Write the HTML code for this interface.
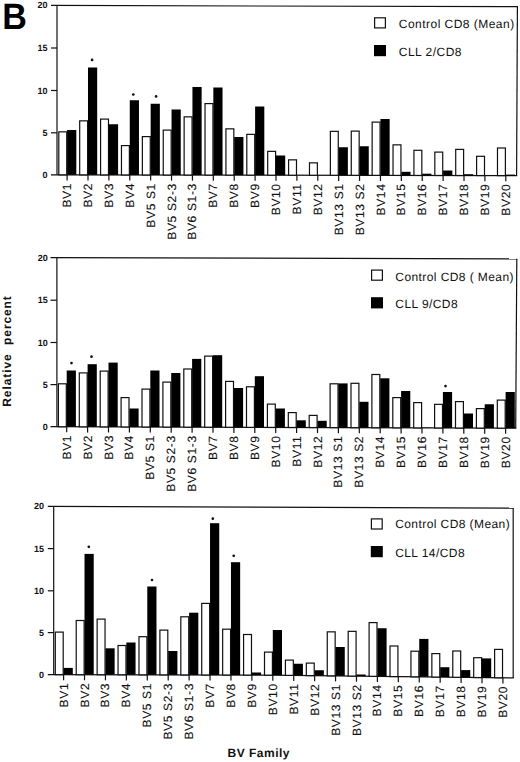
<!DOCTYPE html>
<html><head><meta charset="utf-8"><style>
html,body{margin:0;padding:0;background:#fff;}
svg{display:block;}
line,polyline{stroke:#111;stroke-width:1.2;}
rect.w{fill:#fff;stroke:#111;stroke-width:1.2;}
rect.b{fill:#000;}
circle{fill:#111;}
text{font-family:"Liberation Sans",sans-serif;fill:#111;text-rendering:geometricPrecision;}
.xl{font-size:12px;letter-spacing:0.65px;text-anchor:end;stroke:#111;stroke-width:0.12px;}
.yl{font-size:9px;font-weight:bold;text-anchor:end;}
.lg{font-size:12px;letter-spacing:0.5px;}
.ax{font-size:12px;font-weight:bold;}
</style></head><body>
<svg width="520" height="762" viewBox="0 0 520 762">
<text transform="translate(2.27,28.55) scale(0.93,1)" style="font-family:'Liberation Sans',sans-serif;font-size:36.7px;font-weight:bold;fill:#000">B</text>
<line x1="51" y1="5.42" x2="518" y2="6.7"/>
<line x1="57" y1="5.42" x2="57" y2="174.81"/>
<line x1="517.4" y1="6.7" x2="516.6" y2="175.6"/>
<polyline fill="none" points="51,174.8 517,175.6 517.2,175.6"/>
<line x1="51" y1="48" x2="57" y2="48"/>
<line x1="51" y1="90.5" x2="57" y2="90.5"/>
<line x1="51" y1="132.8" x2="57" y2="132.8"/>
<rect class="w" x="58.8" y="131.85" width="7.9" height="42.98"/>
<rect class="b" x="67.1" y="130" width="9.2" height="44.83"/>
<line x1="67.1" y1="174.83" x2="67.1" y2="180.43"/>
<text class="xl" transform="translate(71.15,182.93) rotate(-90)">BV1</text>
<rect class="w" x="79.69" y="120.85" width="7.9" height="54.01"/>
<rect class="b" x="87.99" y="67.5" width="9.2" height="107.36"/>
<line x1="87.99" y1="174.86" x2="87.99" y2="180.46"/>
<text class="xl" transform="translate(92.04,182.96) rotate(-90)">BV2</text>
<rect class="w" x="100.58" y="119.1" width="7.9" height="55.8"/>
<rect class="b" x="108.88" y="124.25" width="9.2" height="50.65"/>
<line x1="108.88" y1="174.9" x2="108.88" y2="180.5"/>
<text class="xl" transform="translate(112.93,183) rotate(-90)">BV3</text>
<rect class="w" x="121.47" y="145.6" width="7.9" height="29.34"/>
<rect class="b" x="129.77" y="100.25" width="9.2" height="74.69"/>
<line x1="129.77" y1="174.94" x2="129.77" y2="180.54"/>
<text class="xl" transform="translate(133.82,183.04) rotate(-90)">BV4</text>
<rect class="w" x="142.36" y="136.6" width="7.9" height="38.37"/>
<rect class="b" x="150.66" y="103.75" width="9.2" height="71.22"/>
<line x1="150.66" y1="174.97" x2="150.66" y2="180.57"/>
<text class="xl" transform="translate(154.71,183.07) rotate(-90)">BV5 S1</text>
<rect class="w" x="163.25" y="130.1" width="7.9" height="44.91"/>
<rect class="b" x="171.55" y="109.5" width="9.2" height="65.51"/>
<line x1="171.55" y1="175.01" x2="171.55" y2="180.61"/>
<text class="xl" transform="translate(175.6,183.11) rotate(-90)">BV5 S2-3</text>
<rect class="w" x="184.14" y="116.85" width="7.9" height="58.19"/>
<rect class="b" x="192.44" y="87" width="9.2" height="88.04"/>
<line x1="192.44" y1="175.04" x2="192.44" y2="180.64"/>
<text class="xl" transform="translate(196.49,183.14) rotate(-90)">BV6 S1-3</text>
<rect class="w" x="205.03" y="103.6" width="7.9" height="71.48"/>
<rect class="b" x="213.33" y="87.5" width="9.2" height="87.58"/>
<line x1="213.33" y1="175.08" x2="213.33" y2="180.68"/>
<text class="xl" transform="translate(217.38,183.18) rotate(-90)">BV7</text>
<rect class="w" x="225.92" y="128.85" width="7.9" height="46.26"/>
<rect class="b" x="234.22" y="137" width="9.2" height="38.11"/>
<line x1="234.22" y1="175.11" x2="234.22" y2="180.71"/>
<text class="xl" transform="translate(238.27,183.21) rotate(-90)">BV8</text>
<rect class="w" x="246.81" y="134.35" width="7.9" height="40.8"/>
<rect class="b" x="255.11" y="106.5" width="9.2" height="68.65"/>
<line x1="255.11" y1="175.15" x2="255.11" y2="180.75"/>
<text class="xl" transform="translate(259.16,183.25) rotate(-90)">BV9</text>
<rect class="w" x="267.7" y="151.35" width="7.9" height="23.84"/>
<rect class="b" x="276" y="155.5" width="9.2" height="19.69"/>
<line x1="276" y1="175.19" x2="276" y2="180.79"/>
<text class="xl" transform="translate(280.05,183.29) rotate(-90)">BV10</text>
<rect class="w" x="288.59" y="159.85" width="7.9" height="15.37"/>
<line x1="296.89" y1="175.22" x2="296.89" y2="180.82"/>
<text class="xl" transform="translate(300.94,183.32) rotate(-90)">BV11</text>
<rect class="w" x="309.48" y="162.85" width="7.9" height="12.41"/>
<line x1="317.78" y1="175.26" x2="317.78" y2="180.86"/>
<text class="xl" transform="translate(321.83,183.36) rotate(-90)">BV12</text>
<rect class="w" x="330.37" y="131.35" width="7.9" height="43.94"/>
<rect class="b" x="338.67" y="147.25" width="9.2" height="28.04"/>
<line x1="338.67" y1="175.29" x2="338.67" y2="180.89"/>
<text class="xl" transform="translate(342.72,183.39) rotate(-90)">BV13 S1</text>
<rect class="w" x="351.26" y="131.1" width="7.9" height="44.23"/>
<rect class="b" x="359.56" y="146.25" width="9.2" height="29.08"/>
<line x1="359.56" y1="175.33" x2="359.56" y2="180.93"/>
<text class="xl" transform="translate(363.61,183.43) rotate(-90)">BV13 S2</text>
<rect class="w" x="372.15" y="122.1" width="7.9" height="53.27"/>
<rect class="b" x="380.45" y="119" width="9.2" height="56.37"/>
<line x1="380.45" y1="175.37" x2="380.45" y2="180.97"/>
<text class="xl" transform="translate(384.5,183.47) rotate(-90)">BV14</text>
<rect class="w" x="393.04" y="144.85" width="7.9" height="30.55"/>
<rect class="b" x="401.34" y="171.8" width="9.2" height="3.6"/>
<line x1="401.34" y1="175.4" x2="401.34" y2="181"/>
<text class="xl" transform="translate(405.39,183.5) rotate(-90)">BV15</text>
<rect class="w" x="413.93" y="150.3" width="7.9" height="25.14"/>
<rect class="b" x="422.23" y="173.7" width="9.2" height="1.74"/>
<line x1="422.23" y1="175.44" x2="422.23" y2="181.04"/>
<text class="xl" transform="translate(426.28,183.54) rotate(-90)">BV16</text>
<rect class="w" x="434.82" y="152.1" width="7.9" height="23.37"/>
<rect class="b" x="443.12" y="170.5" width="9.2" height="4.97"/>
<line x1="443.12" y1="175.47" x2="443.12" y2="181.07"/>
<text class="xl" transform="translate(447.17,183.57) rotate(-90)">BV17</text>
<rect class="w" x="455.71" y="149.4" width="7.9" height="26.11"/>
<rect class="b" x="464.01" y="174.2" width="9.2" height="1.31"/>
<line x1="464.01" y1="175.51" x2="464.01" y2="181.11"/>
<text class="xl" transform="translate(468.06,183.61) rotate(-90)">BV18</text>
<rect class="w" x="476.6" y="156.3" width="7.9" height="19.24"/>
<line x1="484.9" y1="175.54" x2="484.9" y2="181.14"/>
<text class="xl" transform="translate(488.95,183.64) rotate(-90)">BV19</text>
<rect class="w" x="497.49" y="148" width="7.9" height="27.58"/>
<rect class="b" x="505.79" y="174.6" width="9.2" height="0.98"/>
<line x1="505.79" y1="175.58" x2="505.79" y2="181.18"/>
<text class="xl" transform="translate(509.84,183.68) rotate(-90)">BV20</text>
<circle cx="92.1" cy="59.9" r="1.35"/>
<circle cx="133.3" cy="94.5" r="1.35"/>
<circle cx="156.1" cy="96.4" r="1.35"/>
<text class="yl" x="47.5" y="8.4">20</text>
<text class="yl" x="47.5" y="51">15</text>
<text class="yl" x="47.5" y="93.5">10</text>
<text class="yl" x="47.5" y="135.8">5</text>
<text class="yl" x="47.5" y="177.8">0</text>
<rect class="w" x="374.6" y="17.8" width="10.8" height="10.1"/>
<rect class="b" x="374" y="45" width="12" height="11.2"/>
<text class="lg" x="398.8" y="27.7" style="letter-spacing:0.47px">Control CD8 (Mean)</text>
<text class="lg" x="398.8" y="55.6" style="letter-spacing:0.47px">CLL 2/CD8</text>
<line x1="50.5" y1="257.71" x2="517.4" y2="258.8"/>
<line x1="56.9" y1="257.71" x2="56.9" y2="426.72"/>
<line x1="516.8" y1="258.8" x2="515.7" y2="428.2"/>
<polyline fill="none" points="50.5,426.7 516,428.2 516.3,428.2"/>
<line x1="50.5" y1="300.2" x2="56.9" y2="300.2"/>
<line x1="50.5" y1="342.5" x2="56.9" y2="342.5"/>
<line x1="50.5" y1="384.6" x2="56.9" y2="384.6"/>
<rect class="w" x="58.4" y="383.8" width="7.9" height="42.95"/>
<rect class="b" x="66.7" y="370.5" width="9.2" height="56.25"/>
<line x1="66.7" y1="426.75" x2="66.7" y2="432.35"/>
<text class="xl" transform="translate(70.75,434.85) rotate(-90)">BV1</text>
<rect class="w" x="79.3" y="372.9" width="7.9" height="53.92"/>
<rect class="b" x="87.6" y="364.2" width="9.2" height="62.62"/>
<line x1="87.6" y1="426.82" x2="87.6" y2="432.42"/>
<text class="xl" transform="translate(91.65,434.92) rotate(-90)">BV2</text>
<rect class="w" x="100.2" y="371.1" width="7.9" height="55.79"/>
<rect class="b" x="108.5" y="362.6" width="9.2" height="64.29"/>
<line x1="108.5" y1="426.89" x2="108.5" y2="432.49"/>
<text class="xl" transform="translate(112.55,434.99) rotate(-90)">BV3</text>
<rect class="w" x="121.1" y="397.6" width="7.9" height="29.35"/>
<rect class="b" x="129.4" y="408.5" width="9.2" height="18.45"/>
<line x1="129.4" y1="426.95" x2="129.4" y2="432.55"/>
<text class="xl" transform="translate(133.45,435.05) rotate(-90)">BV4</text>
<rect class="w" x="142" y="389.1" width="7.9" height="37.92"/>
<rect class="b" x="150.3" y="370.5" width="9.2" height="56.52"/>
<line x1="150.3" y1="427.02" x2="150.3" y2="432.62"/>
<text class="xl" transform="translate(154.35,435.12) rotate(-90)">BV5 S1</text>
<rect class="w" x="162.9" y="382.1" width="7.9" height="44.99"/>
<rect class="b" x="171.2" y="373" width="9.2" height="54.09"/>
<line x1="171.2" y1="427.09" x2="171.2" y2="432.69"/>
<text class="xl" transform="translate(175.25,435.19) rotate(-90)">BV5 S2-3</text>
<rect class="w" x="183.8" y="369" width="7.9" height="58.16"/>
<rect class="b" x="192.1" y="358.9" width="9.2" height="68.26"/>
<line x1="192.1" y1="427.16" x2="192.1" y2="432.76"/>
<text class="xl" transform="translate(196.15,435.26) rotate(-90)">BV6 S1-3</text>
<rect class="w" x="204.7" y="356.1" width="7.9" height="71.12"/>
<rect class="b" x="213" y="355.2" width="9.2" height="72.02"/>
<line x1="213" y1="427.22" x2="213" y2="432.82"/>
<text class="xl" transform="translate(217.05,435.32) rotate(-90)">BV7</text>
<rect class="w" x="225.6" y="381.4" width="7.9" height="45.89"/>
<rect class="b" x="233.9" y="388" width="9.2" height="39.29"/>
<line x1="233.9" y1="427.29" x2="233.9" y2="432.89"/>
<text class="xl" transform="translate(237.95,435.39) rotate(-90)">BV8</text>
<rect class="w" x="246.5" y="386.8" width="7.9" height="40.56"/>
<rect class="b" x="254.8" y="376.2" width="9.2" height="51.16"/>
<line x1="254.8" y1="427.36" x2="254.8" y2="432.96"/>
<text class="xl" transform="translate(258.85,435.46) rotate(-90)">BV9</text>
<rect class="w" x="267.4" y="404.1" width="7.9" height="23.33"/>
<rect class="b" x="275.7" y="408.5" width="9.2" height="18.93"/>
<line x1="275.7" y1="427.43" x2="275.7" y2="433.03"/>
<text class="xl" transform="translate(279.75,435.53) rotate(-90)">BV10</text>
<rect class="w" x="288.3" y="412.6" width="7.9" height="14.89"/>
<rect class="b" x="296.6" y="420.3" width="9.2" height="7.19"/>
<line x1="296.6" y1="427.49" x2="296.6" y2="433.09"/>
<text class="xl" transform="translate(300.65,435.59) rotate(-90)">BV11</text>
<rect class="w" x="309.2" y="415.4" width="7.9" height="12.16"/>
<rect class="b" x="317.5" y="420.8" width="9.2" height="6.76"/>
<line x1="317.5" y1="427.56" x2="317.5" y2="433.16"/>
<text class="xl" transform="translate(321.55,435.66) rotate(-90)">BV12</text>
<rect class="w" x="330.1" y="383.8" width="7.9" height="43.83"/>
<rect class="b" x="338.4" y="383.4" width="9.2" height="44.23"/>
<line x1="338.4" y1="427.63" x2="338.4" y2="433.23"/>
<text class="xl" transform="translate(342.45,435.73) rotate(-90)">BV13 S1</text>
<rect class="w" x="351" y="383.3" width="7.9" height="44.4"/>
<rect class="b" x="359.3" y="401.8" width="9.2" height="25.9"/>
<line x1="359.3" y1="427.7" x2="359.3" y2="433.3"/>
<text class="xl" transform="translate(363.35,435.8) rotate(-90)">BV13 S2</text>
<rect class="w" x="371.9" y="374.5" width="7.9" height="53.26"/>
<rect class="b" x="380.2" y="378.3" width="9.2" height="49.46"/>
<line x1="380.2" y1="427.76" x2="380.2" y2="433.36"/>
<text class="xl" transform="translate(384.25,435.86) rotate(-90)">BV14</text>
<rect class="w" x="392.8" y="397.6" width="7.9" height="30.23"/>
<rect class="b" x="401.1" y="391" width="9.2" height="36.83"/>
<line x1="401.1" y1="427.83" x2="401.1" y2="433.43"/>
<text class="xl" transform="translate(405.15,435.93) rotate(-90)">BV15</text>
<rect class="w" x="413.7" y="402.6" width="7.9" height="25.3"/>
<rect class="b" x="422" y="427.6" width="9.2" height="0.3"/>
<line x1="422" y1="427.9" x2="422" y2="433.5"/>
<text class="xl" transform="translate(426.05,436) rotate(-90)">BV16</text>
<rect class="w" x="434.6" y="404.35" width="7.9" height="23.61"/>
<rect class="b" x="442.9" y="392" width="9.2" height="35.96"/>
<line x1="442.9" y1="427.96" x2="442.9" y2="433.56"/>
<text class="xl" transform="translate(446.95,436.06) rotate(-90)">BV17</text>
<rect class="w" x="455.5" y="401.6" width="7.9" height="26.43"/>
<rect class="b" x="463.8" y="413.5" width="9.2" height="14.53"/>
<line x1="463.8" y1="428.03" x2="463.8" y2="433.63"/>
<text class="xl" transform="translate(467.85,436.13) rotate(-90)">BV18</text>
<rect class="w" x="476.4" y="408.6" width="7.9" height="19.5"/>
<rect class="b" x="484.7" y="404.25" width="9.2" height="23.85"/>
<line x1="484.7" y1="428.1" x2="484.7" y2="433.7"/>
<text class="xl" transform="translate(488.75,436.2) rotate(-90)">BV19</text>
<rect class="w" x="497.3" y="400.1" width="7.9" height="28.07"/>
<rect class="b" x="505.6" y="392" width="9.2" height="36.17"/>
<line x1="505.6" y1="428.17" x2="505.6" y2="433.77"/>
<text class="xl" transform="translate(509.65,436.27) rotate(-90)">BV20</text>
<circle cx="71.5" cy="363.1" r="1.35"/>
<circle cx="91.5" cy="356.7" r="1.35"/>
<circle cx="445.5" cy="386.1" r="1.35"/>
<text class="yl" x="47.8" y="260.9">20</text>
<text class="yl" x="47.8" y="303.2">15</text>
<text class="yl" x="47.8" y="345.5">10</text>
<text class="yl" x="47.8" y="387.6">5</text>
<text class="yl" x="47.8" y="429.8">0</text>
<rect class="w" x="371.6" y="270.1" width="10.8" height="10.1"/>
<rect class="b" x="371" y="297.2" width="12" height="11.2"/>
<text class="lg" x="395.3" y="280.6" style="letter-spacing:0.42px">Control CD8 ( Mean)</text>
<text class="lg" x="395.3" y="308" style="letter-spacing:0.42px">CLL 9/CD8</text>
<line x1="47.8" y1="506.32" x2="513.8" y2="508.2"/>
<line x1="53.7" y1="506.32" x2="53.7" y2="674.61"/>
<line x1="513.2" y1="508.2" x2="513.2" y2="677.9"/>
<polyline fill="none" points="47.8,674.6 270,675.1 513.8,677.9"/>
<line x1="47.8" y1="548.6" x2="53.7" y2="548.6"/>
<line x1="47.8" y1="590.8" x2="53.7" y2="590.8"/>
<line x1="47.8" y1="632.6" x2="53.7" y2="632.6"/>
<rect class="w" x="55.3" y="632.1" width="7.9" height="42.54"/>
<rect class="b" x="63.6" y="667.9" width="9.2" height="6.74"/>
<line x1="63.6" y1="674.64" x2="63.6" y2="680.24"/>
<text class="xl" transform="translate(67.65,682.74) rotate(-90)">BV1</text>
<rect class="w" x="76.22" y="620.5" width="7.9" height="54.18"/>
<rect class="b" x="84.52" y="553.9" width="9.2" height="120.78"/>
<line x1="84.52" y1="674.68" x2="84.52" y2="680.28"/>
<text class="xl" transform="translate(88.57,682.78) rotate(-90)">BV2</text>
<rect class="w" x="97.14" y="619.1" width="7.9" height="55.63"/>
<rect class="b" x="105.44" y="648.3" width="9.2" height="26.43"/>
<line x1="105.44" y1="674.73" x2="105.44" y2="680.33"/>
<text class="xl" transform="translate(109.49,682.83) rotate(-90)">BV3</text>
<rect class="w" x="118.06" y="645.5" width="7.9" height="29.28"/>
<rect class="b" x="126.36" y="642.5" width="9.2" height="32.28"/>
<line x1="126.36" y1="674.78" x2="126.36" y2="680.38"/>
<text class="xl" transform="translate(130.41,682.88) rotate(-90)">BV4</text>
<rect class="w" x="138.98" y="636.7" width="7.9" height="38.12"/>
<rect class="b" x="147.28" y="586.5" width="9.2" height="88.32"/>
<line x1="147.28" y1="674.82" x2="147.28" y2="680.42"/>
<text class="xl" transform="translate(151.33,682.92) rotate(-90)">BV5 S1</text>
<rect class="w" x="159.9" y="630.1" width="7.9" height="44.77"/>
<rect class="b" x="168.2" y="651" width="9.2" height="23.87"/>
<line x1="168.2" y1="674.87" x2="168.2" y2="680.47"/>
<text class="xl" transform="translate(172.25,682.97) rotate(-90)">BV5 S2-3</text>
<rect class="w" x="180.82" y="616.8" width="7.9" height="58.12"/>
<rect class="b" x="189.12" y="612.7" width="9.2" height="62.22"/>
<line x1="189.12" y1="674.92" x2="189.12" y2="680.52"/>
<text class="xl" transform="translate(193.17,683.02) rotate(-90)">BV6 S1-3</text>
<rect class="w" x="201.74" y="603.4" width="7.9" height="71.57"/>
<rect class="b" x="210.04" y="523.2" width="9.2" height="151.77"/>
<line x1="210.04" y1="674.97" x2="210.04" y2="680.57"/>
<text class="xl" transform="translate(214.09,683.07) rotate(-90)">BV7</text>
<rect class="w" x="222.66" y="629.2" width="7.9" height="45.81"/>
<rect class="b" x="230.96" y="562.2" width="9.2" height="112.81"/>
<line x1="230.96" y1="675.01" x2="230.96" y2="680.61"/>
<text class="xl" transform="translate(235.01,683.11) rotate(-90)">BV8</text>
<rect class="w" x="243.58" y="634.5" width="7.9" height="40.56"/>
<rect class="b" x="251.88" y="672.5" width="9.2" height="2.56"/>
<line x1="251.88" y1="675.06" x2="251.88" y2="680.66"/>
<text class="xl" transform="translate(255.93,683.16) rotate(-90)">BV9</text>
<rect class="w" x="264.5" y="652.1" width="7.9" height="23.03"/>
<rect class="b" x="272.8" y="630" width="9.2" height="45.13"/>
<line x1="272.8" y1="675.13" x2="272.8" y2="680.73"/>
<text class="xl" transform="translate(276.85,683.23) rotate(-90)">BV10</text>
<rect class="w" x="285.42" y="660.1" width="7.9" height="15.27"/>
<rect class="b" x="293.72" y="663.75" width="9.2" height="11.62"/>
<line x1="293.72" y1="675.37" x2="293.72" y2="680.97"/>
<text class="xl" transform="translate(297.77,683.47) rotate(-90)">BV11</text>
<rect class="w" x="306.34" y="663.1" width="7.9" height="12.51"/>
<rect class="b" x="314.64" y="670.25" width="9.2" height="5.36"/>
<line x1="314.64" y1="675.61" x2="314.64" y2="681.21"/>
<text class="xl" transform="translate(318.69,683.71) rotate(-90)">BV12</text>
<rect class="w" x="327.26" y="631.85" width="7.9" height="44"/>
<rect class="b" x="335.56" y="647" width="9.2" height="28.85"/>
<line x1="335.56" y1="675.85" x2="335.56" y2="681.45"/>
<text class="xl" transform="translate(339.61,683.95) rotate(-90)">BV13 S1</text>
<rect class="w" x="348.18" y="631.35" width="7.9" height="44.74"/>
<rect class="b" x="356.48" y="674.5" width="9.2" height="1.59"/>
<line x1="356.48" y1="676.09" x2="356.48" y2="681.69"/>
<text class="xl" transform="translate(360.53,684.19) rotate(-90)">BV13 S2</text>
<rect class="w" x="369.1" y="622.6" width="7.9" height="53.73"/>
<rect class="b" x="377.4" y="628.25" width="9.2" height="48.08"/>
<line x1="377.4" y1="676.33" x2="377.4" y2="681.93"/>
<text class="xl" transform="translate(381.45,684.43) rotate(-90)">BV14</text>
<rect class="w" x="390.02" y="646" width="7.9" height="30.58"/>
<line x1="398.32" y1="676.58" x2="398.32" y2="682.18"/>
<text class="xl" transform="translate(402.37,684.68) rotate(-90)">BV15</text>
<rect class="w" x="410.94" y="651.2" width="7.9" height="25.62"/>
<rect class="b" x="419.24" y="638.9" width="9.2" height="37.92"/>
<line x1="419.24" y1="676.82" x2="419.24" y2="682.42"/>
<text class="xl" transform="translate(423.29,684.92) rotate(-90)">BV16</text>
<rect class="w" x="431.86" y="653.6" width="7.9" height="23.46"/>
<rect class="b" x="440.16" y="667.2" width="9.2" height="9.86"/>
<line x1="440.16" y1="677.06" x2="440.16" y2="682.66"/>
<text class="xl" transform="translate(444.21,685.16) rotate(-90)">BV17</text>
<rect class="w" x="452.78" y="651" width="7.9" height="26.3"/>
<rect class="b" x="461.08" y="670.1" width="9.2" height="7.2"/>
<line x1="461.08" y1="677.3" x2="461.08" y2="682.9"/>
<text class="xl" transform="translate(465.13,685.4) rotate(-90)">BV18</text>
<rect class="w" x="473.7" y="657.7" width="7.9" height="19.84"/>
<rect class="b" x="482" y="658.4" width="9.2" height="19.14"/>
<line x1="482" y1="677.54" x2="482" y2="683.14"/>
<text class="xl" transform="translate(486.05,685.64) rotate(-90)">BV19</text>
<rect class="w" x="494.62" y="649.4" width="7.9" height="28.38"/>
<line x1="502.92" y1="677.78" x2="502.92" y2="683.38"/>
<text class="xl" transform="translate(506.97,685.88) rotate(-90)">BV20</text>
<circle cx="88.8" cy="546.8" r="1.35"/>
<circle cx="152" cy="580" r="1.35"/>
<circle cx="212.8" cy="518.65" r="1.35"/>
<circle cx="233.7" cy="555.8" r="1.35"/>
<text class="yl" x="44" y="509.4">20</text>
<text class="yl" x="44" y="551.6">15</text>
<text class="yl" x="44" y="593.8">10</text>
<text class="yl" x="44" y="635.6">5</text>
<text class="yl" x="44" y="677.7">0</text>
<rect class="w" x="371.4" y="518.9" width="10.8" height="10.1"/>
<rect class="b" x="370.8" y="546" width="12" height="11.2"/>
<text class="lg" x="395.2" y="528.1" style="letter-spacing:0.42px">Control CD8 (Mean)</text>
<text class="lg" x="395.2" y="556.5" style="letter-spacing:0.42px">CLL 14/CD8</text>
<text class="ax" transform="translate(11.3,406.7) rotate(-90)" style="letter-spacing:0.9px">Relative</text>
<text class="ax" transform="translate(11.3,344.9) rotate(-90)" style="letter-spacing:0.9px">percent</text>
<text class="ax" x="227.5" y="756.8" style="letter-spacing:0.5px">BV Family</text>
</svg>
</body></html>
